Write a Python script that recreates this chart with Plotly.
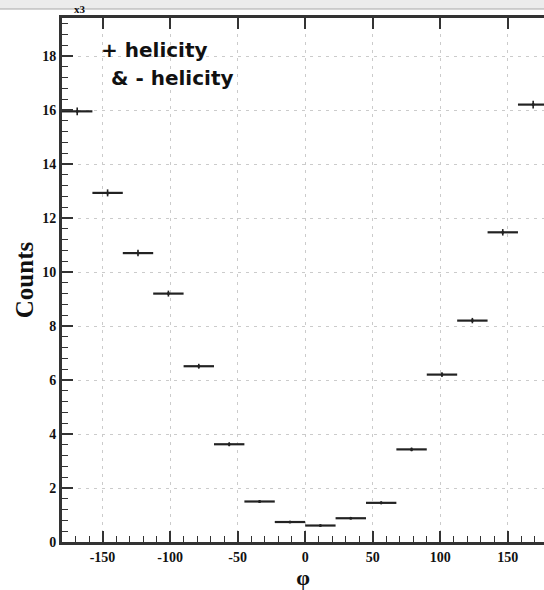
import plotly.graph_objects as go

# ---- data ----
phi_centers = [-168.75, -146.25, -123.75, -101.25, -78.75, -56.25, -33.75, -11.25,
               11.25, 33.75, 56.25, 78.75, 101.25, 123.75, 146.25, 168.75]
phi_half_width = [11.25] * 16
counts = [15.95, 12.93, 10.70, 9.20, 6.51, 3.62, 1.50, 0.74,
          0.61, 0.88, 1.45, 3.43, 6.20, 8.20, 11.47, 16.20]
count_err = [0.14, 0.13, 0.12, 0.11, 0.09, 0.07, 0.05, 0.03,
             0.03, 0.03, 0.05, 0.07, 0.09, 0.10, 0.12, 0.14]
x_ticks = [-150, -100, -50, 0, 50, 100, 150]
y_ticks = [0, 2, 4, 6, 8, 10, 12, 14, 16, 18]

W, H = 544, 590
ML, MR, MT, MB = 62, 0, 18, 48
px_per_x = 1.351
px_per_y = 27.0
x_max = -180 + (W - ML - MR) / px_per_x
y_max = (H - MT - MB) / px_per_y

fig = go.Figure()
fig.add_trace(go.Scatter(
    x=phi_centers, y=counts, mode="markers",
    marker=dict(size=3, color="#222222"),
    error_x=dict(type="data", array=phi_half_width, width=0, thickness=2.2, color="#222222"),
    error_y=dict(type="data", array=count_err, width=0, thickness=1.6, color="#222222"),
    showlegend=False, hoverinfo="x+y",
))
# invisible trace to activate the top (mirror) axis with major ticks only
fig.add_trace(go.Scatter(x=[phi_centers[0]], y=[counts[0]], xaxis="x2", mode="markers",
                         marker=dict(size=0, opacity=0), showlegend=False, hoverinfo="skip"))

tick_font = dict(family="Liberation Serif, Times New Roman, serif", size=14, color="#111111", weight="bold")
grid_style = dict(showgrid=True, gridcolor="#cbcbcb", griddash="3px,5px", gridwidth=1)

fig.update_layout(
    xaxis=dict(
        range=[-180, x_max], tickvals=x_ticks, ticktext=[str(v) for v in x_ticks],
        ticks="inside", ticklen=11, tickwidth=1.5, tickcolor="#333333",
        minor=dict(ticks="inside", ticklen=6, tickwidth=1.2, tickcolor="#333333", dtick=10, tick0=0, showgrid=False),
        showline=True, linewidth=2.5, linecolor="#333333", mirror=False,
        zeroline=False, tickfont=tick_font, **grid_style,
        title=dict(text="φ", font=dict(family="Liberation Serif, Times New Roman, serif", size=22, color="#111111", weight="bold"), standoff=4),
    ),
    xaxis2=dict(
        overlaying="x", side="top", matches="x", range=[-180, x_max],
        tickvals=x_ticks, showticklabels=False,
        ticks="inside", ticklen=11, tickwidth=1.5, tickcolor="#333333",
        showline=True, linewidth=2.5, linecolor="#333333", showgrid=False, zeroline=False,
    ),
    yaxis=dict(
        range=[0, y_max], tickvals=y_ticks, ticktext=[str(v) for v in y_ticks],
        ticks="inside", ticklen=11, tickwidth=1.5, tickcolor="#333333",
        minor=dict(ticks="inside", ticklen=6, tickwidth=1.2, tickcolor="#333333", dtick=0.4, tick0=0, showgrid=False),
        showline=True, linewidth=3, linecolor="#333333", mirror=False,
        zeroline=False, tickfont=tick_font, **grid_style,
        title=dict(text="Counts", font=dict(family="Liberation Serif, Times New Roman, serif", size=25, color="#111111", weight="bold"), standoff=2),
    ),
)

legend_font = dict(family="Comic Sans MS, DejaVu Sans, sans-serif", size=20, color="#111111", weight="bold")
fig.add_annotation(text="+ helicity", xref="paper", yref="paper",
                   x=(99 - ML) / (W - ML - MR), y=1 - (50 - MT) / (H - MT - MB),
                   xanchor="left", yanchor="middle", showarrow=False, font=legend_font)
fig.add_annotation(text="& - helicity", xref="paper", yref="paper",
                   x=(109 - ML) / (W - ML - MR), y=1 - (78 - MT) / (H - MT - MB),
                   xanchor="left", yanchor="middle", showarrow=False, font=legend_font)

ph = H - MT - MB
# multiplier label just under the window frame
fig.add_annotation(text="x3", xref="paper", yref="paper",
                   x=(80 - ML) / (W - ML - MR), y=1 + (MT - 17) / ph,
                   xanchor="center", yanchor="bottom", showarrow=False,
                   font=dict(family="Liberation Serif, serif", size=11, color="#111111", weight="bold"))

fig.add_shape(type="rect", xref="paper", yref="paper", x0=-ML / (W - ML), x1=1,
              y0=1 + (MT - 9) / ph, y1=1 + MT / ph, fillcolor="#ececec", line_width=0, layer="above")
fig.add_shape(type="line", xref="paper", yref="paper", x0=-ML / (W - ML), x1=1,
              y0=1 + (MT - 9) / ph, y1=1 + (MT - 9) / ph, line=dict(color="#a8a8a8", width=1.2), layer="above")

fig.update_layout(
    width=W, height=H, margin=dict(l=ML, r=MR, t=MT, b=MB, pad=0),
    paper_bgcolor="white", plot_bgcolor="white",
)
fig.write_html("out.html")
